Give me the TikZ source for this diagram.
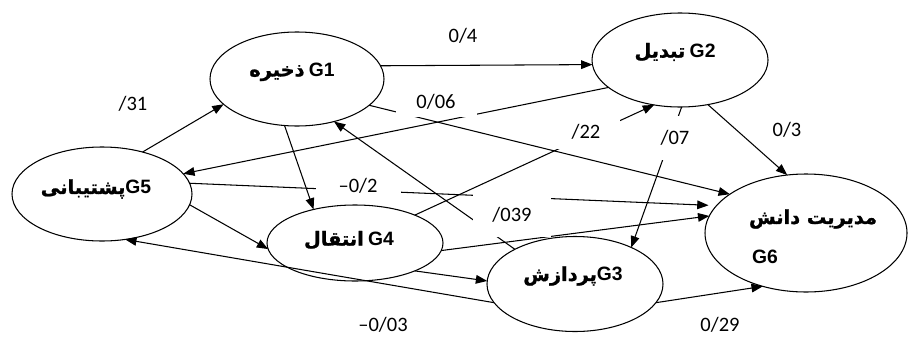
\documentclass[tikz,border=0pt]{standalone}
\usepackage{fontspec}
\setmainfont{Carlito}
\newfontfamily\arabicfont[Script=Arabic,FakeBold=1.2]{DejaVu Sans Bold}
\newfontfamily\gfont{Liberation Sans Bold}
\TeXXeTstate=1
\usetikzlibrary{shapes.geometric,arrows.meta}
\begin{document}
\begin{tikzpicture}[x=0.03cm,y=-0.03cm,
  ell/.style={ellipse,draw,line width=0.9pt,inner sep=0pt,outer sep=0pt},
  conn/.style={line width=0.9pt,-{Triangle[length=0.34cm,width=0.26cm]}},
  lbl/.style={font=\fontsize{17.5}{19}\selectfont,inner sep=0pt},
  gap/.style={fill=white},
  ntext/.style={font=\fontsize{16.5}{18}\selectfont,inner sep=0pt}]
\useasboundingbox (0,0) rectangle (908,336);
\fill[white] (0,0) rectangle (908,336);
% ellipses
\node[ell,minimum width=5.22cm,minimum height=2.82cm] (G1) at (297,79) {};
\node[ell,minimum width=5.28cm,minimum height=2.82cm] (G2) at (680,60) {};
\node[ell,minimum width=5.28cm,minimum height=2.85cm] (G3) at (575,284) {};
\node[ell,minimum width=5.28cm,minimum height=2.28cm] (G4) at (355,243) {};
\node[ell,minimum width=5.40cm,minimum height=2.82cm] (G5) at (102,194) {};
\node[ell,minimum width=6.06cm,minimum height=3.54cm] (G6) at (806,233) {};
% connectors
\draw[conn] (G1.9.6) -- (G2.183.3);
\draw[conn] (G5.46) -- (G1.199);
\draw[conn] (G2.201.5) -- (G5.14);
\draw[conn] (G1.255.7) -- (G4.141);
\draw[conn] (G5.-7) -- (G4.184.5);
\draw[conn] (G3.193.2) -- (G5.297);
\draw[conn] (G4.25.3) -- (G2.240.9);
\draw[conn] (G2.272.5) -- (G3.33);
\draw[conn] (G2.302.2) -- (G6.108.1);
\draw[conn] (G1.-20.5) -- (G6.153.4);
\draw[conn,shorten >=0.24cm] (G5.7) -- (G6.163.5);
\draw[conn] (G4.-5.8) -- (G6.170.2);
\draw[conn] (G4.-25.8) -- (G3.178);
\draw[conn] (G3.150.8) -- (G1.311.3);
\draw[conn] (G3.-13.5) -- (G6.231);
% labels
\node[lbl] (L04) at (463,36) {0/4};
\node[lbl] (L31) at (133,104) {/31};
\node[lbl,gap,minimum width=2.43cm,minimum height=0.87cm] (L06) at (436,102) {0/06};
\node[lbl,gap,minimum width=2.04cm,minimum height=0.99cm] (L22) at (586,132) {/22};
\node[lbl,gap,minimum width=1.2cm,minimum height=1.32cm] (L07) at (675,138) {/07};
\node[lbl] (L3) at (787,130) {0/3};
\node[lbl,gap,minimum width=2.55cm,minimum height=0.6cm] (L2) at (358,186) {–0/2};
\node[lbl,gap,minimum width=2.34cm,minimum height=1.32cm] (L039) at (512,215) {/039};
\node[lbl] (L003) at (383,325) {–0/03};
\node[lbl] (L029) at (720,325) {0/29};
% node texts
\node[ntext] (T1) at (292,72) {{\arabicfont ذخیره} {\gfont G1}};
\node[ntext] (T2) at (675,52) {{\arabicfont تبدیل} {\gfont G2}};
\node[ntext] (T5) at (96,189) {{\arabicfont پشتیبانی}{\gfont G5}};
\node[ntext] (T4) at (349,240) {{\arabicfont انتقال} {\gfont G4}};
\node[ntext] (T3) at (573,276) {{\arabicfont پردازش}{\gfont G3}};
\node[ntext] (T6a) at (813,219) {{\arabicfont\beginR مدیریت دانش\endR}};
\node[ntext] (T6b) at (765,257) {{\gfont G6}};
\end{tikzpicture}
\end{document}
